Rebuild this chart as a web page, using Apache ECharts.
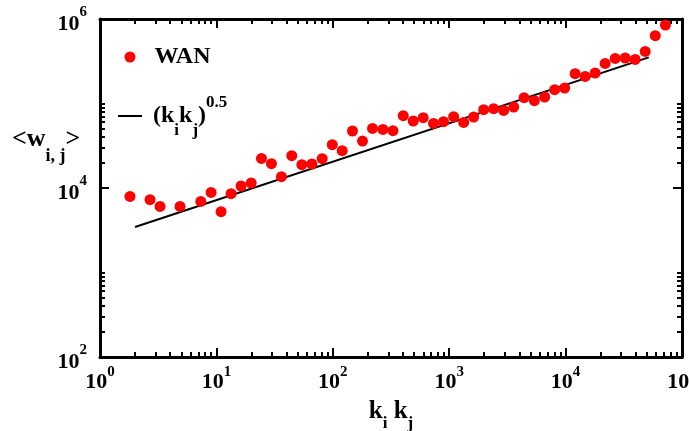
<!DOCTYPE html>
<html><head><meta charset="utf-8">
<script src="https://cdn.jsdelivr.net/npm/echarts@6/dist/echarts.min.js"></script>
<style>html,body{margin:0;padding:0;background:#fff}#c{width:689px;height:431px}</style>
</head><body><div id="c"></div>
<script>
// k_i k_j (x) values of the WAN points
const kk = [1.81, 2.69, 3.28, 4.87, 7.34, 9.00, 10.97, 13.37, 16.3, 19.9,
  24.4, 29.7, 36.2, 44.4, 54.2, 66.1, 81.1, 98.9, 120.5, 147.6,
  179.9, 219.4, 269.6, 328.8, 403, 491, 598, 734, 895, 1092,
  1331, 1622, 1977, 2409, 2938, 3581, 4399, 5393, 6610, 8060,
  9820, 12070, 14720, 17950, 21870, 26680, 32500, 39600, 48300, 58900, 72100];
// <w_ij> values of the WAN points
const wan = [7955, 7270, 6058, 6058, 6937, 8870, 5243, 8560, 10560, 11460,
  22400, 19400, 13610, 24100, 18870, 19230, 22220, 32540, 27610, 47270,
  35960, 50730, 49370, 47640, 71730, 62080, 67930, 58150, 60900, 69800,
  59700, 69200, 84460, 86800, 82800, 90900, 117100, 107900, 119400, 145700,
  152600, 225300, 209300, 229600, 298300, 341800, 345500, 332700, 413600, 634500, 849000];
// reference line (k_i k_j)^0.5 endpoints
const fitK = [2, 51800];
const fitW = [3455, 351200];
// tick positions (decade exponents)
const xMajorExp = [0, 1, 2, 3, 4, 5];
const yMajorExp = [2, 4, 6];
const xMinorMult = [2, 3, 4, 5, 6, 7, 8, 9];
const yMinorMult = [2, 3, 4, 5, 6, 7, 8, 9, 10];

const xMinor = [];
for (let e = 0; e < 5; e++) xMinorMult.forEach(m => xMinor.push(Math.log10(m * Math.pow(10, e))));
const yMinor = [];
[2, 4].forEach(e => yMinorMult.forEach(m => yMinor.push(Math.log10(m * Math.pow(10, e)))));

const F = "'Liberation Serif', 'Times New Roman', serif";
const BLK = '#000';
const AX = { color: BLK, width: 3 };
const TK = { color: BLK, width: 2 };

function auxX(pos, ticks, len, line) {
  return { type: 'value', min: 0, max: 5, position: pos, gridIndex: 0,
    axisLine: { show: line, onZero: false, lineStyle: AX },
    axisTick: { show: true, inside: true, length: len, customValues: ticks, lineStyle: TK },
    axisLabel: { show: false }, splitLine: { show: false } };
}
function auxY(pos, ticks, len, line) {
  return { type: 'value', min: 2, max: 6, position: pos, gridIndex: 0,
    axisLine: { show: line, onZero: false, lineStyle: AX },
    axisTick: { show: true, inside: true, length: len, customValues: ticks, lineStyle: TK },
    axisLabel: { show: false }, splitLine: { show: false } };
}
function bStyle(size, extra) {
  return Object.assign({ fontSize: size, lineHeight: size, fontWeight: 'bold', fontFamily: F, color: BLK, verticalAlign: 'middle' }, extra || {});
}

const chart = echarts.init(document.getElementById('c'), null, { renderer: 'canvas' });
chart.setOption({
  animation: false,
  backgroundColor: '#fff',
  grid: { left: 100, right: 7, top: 19, bottom: 74, containLabel: false, outerBoundsMode: 'none' },
  legend: [
    { data: [{ name: 'WAN', icon: 'circle' }], left: 124.5, top: 45, padding: 0, itemWidth: 11, itemHeight: 11, selectedMode: false,
      formatter: n => '{p| }{b|' + n + '}',
      textStyle: { rich: { p: { width: 14 }, b: bStyle(24) } } },
    { data: [{ name: '(kikj)^0.5', icon: 'rect' }], left: 118, top: 93, padding: 0, itemWidth: 24, itemHeight: 2, selectedMode: false,
      itemStyle: { color: BLK },
      formatter: () => '{p| }{b|(k}{s|i}{b|k}{s|j}{b|)}{u|0.5}',
      textStyle: { rich: { p: { width: 6 }, b: bStyle(24), s: bStyle(17, { padding: [29, 0, 0, 0] }), u: bStyle(17, { padding: [0, 0, 27, 0] }) } } }
  ],
  xAxis: [
    { type: 'log', logBase: 10, min: 1, max: 100000, splitNumber: 5, position: 'bottom',
      axisLine: { show: true, onZero: false, lineStyle: AX },
      axisTick: { show: false }, minorTick: { show: false }, splitLine: { show: false },
      axisLabel: { margin: 9, showMinLabel: true, showMaxLabel: true,
        formatter: v => '{b|10}{s|' + Math.round(Math.log10(v)) + '}',
        rich: { b: bStyle(22, { padding: [10, 0, 0, 0] }), s: bStyle(15, { padding: [0, 0, 10, 0] }) } },
      name: '{b|k}{s|i}{b| k}{s|j}', nameLocation: 'middle', nameGap: 42, nameMoveOverlap: false,
      nameTextStyle: { rich: { b: bStyle(25), s: bStyle(17, { padding: [24, 0, 0, 0] }) } } },
    auxX('bottom', xMajorExp, 9, false),
    auxX('bottom', xMinor, 5, false),
    auxX('top', xMajorExp, 9, true),
    auxX('top', xMinor, 5, false)
  ],
  yAxis: [
    { type: 'log', logBase: 10, min: 100, max: 1000000, splitNumber: 4, position: 'left',
      axisLine: { show: true, onZero: false, lineStyle: AX },
      axisTick: { show: false }, minorTick: { show: false }, splitLine: { show: false },
      axisLabel: { margin: 13, showMinLabel: true, showMaxLabel: true,
        formatter: v => { const e = Math.round(Math.log10(v)); return e % 2 === 0 ? '{b|10}{s|' + e + '}' : ''; },
        rich: { b: bStyle(22, { padding: [11, 0, 0, 0] }), s: bStyle(15, { padding: [0, 0, 13, 0] }) } } },
    auxY('left', yMajorExp, 9, false),
    auxY('left', yMinor, 5, false),
    auxY('right', yMajorExp, 9, true),
    auxY('right', yMinor, 5, false)
  ],
  graphic: [
    { type: 'text', left: 12, top: 113,
      style: { text: '{b|<w}{s|i, j}{b|>}',
        rich: { b: bStyle(26), s: bStyle(18, { padding: [34, 0, 0, 0] }) } } }
  ],
  series: [
    { name: '(kikj)^0.5', type: 'line', xAxisIndex: 0, yAxisIndex: 0, symbol: 'none', z: 2,
      lineStyle: { color: BLK, width: 2 }, itemStyle: { color: BLK },
      data: fitK.map((k, i) => [k, fitW[i]]) },
    { name: 'WAN', type: 'scatter', xAxisIndex: 0, yAxisIndex: 0, symbol: 'circle', symbolSize: 11, z: 3,
      itemStyle: { color: '#ff0000', opacity: 1 },
      data: kk.map((k, i) => [k, wan[i]]) }
  ]
});
</script></body></html>
